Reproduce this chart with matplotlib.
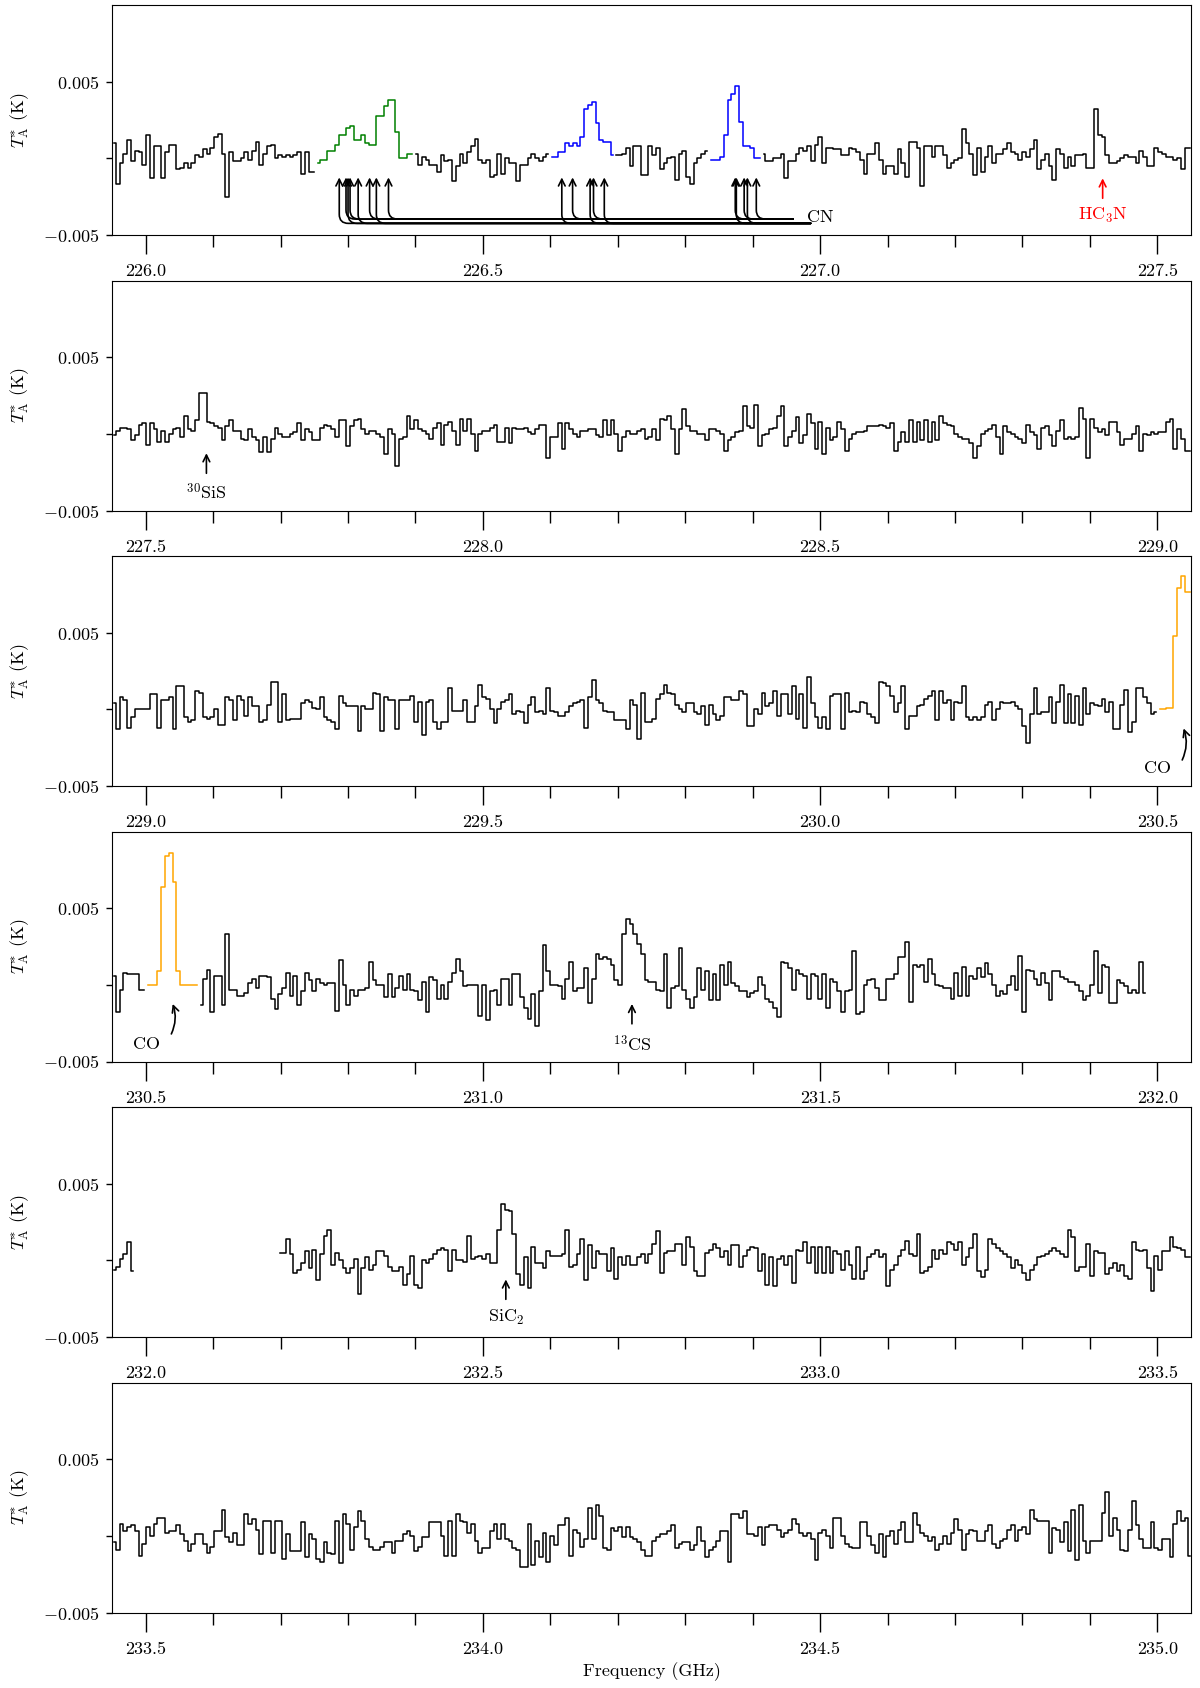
import numpy as np
import matplotlib
matplotlib.use("Agg")
import matplotlib.pyplot as plt
from matplotlib.ticker import MultipleLocator, FormatStrFormatter

plt.rcParams['font.family'] = 'serif'
plt.rcParams['font.serif'] = ['cmr10']
plt.rcParams['mathtext.fontset'] = 'cm'
plt.rcParams['axes.unicode_minus'] = False

# ---------------- data (values in units of 0.1 mK) ----------------
panel_starts = [226.0, 227.5, 229.0, 230.5, 232.0, 233.5]   # GHz, first major tick of each panel
chan_width = 0.0056                                          # GHz
first_chan_offset = -0.047                                   # first channel relative to panel start

# Panel 1: 226.0 - 227.5 GHz
p1_black_a = [10,-17,-3,3,12,-2,5,4,-4,15,-13,8,8,-13,4,9,9,-7,-6,-3,-6,-3,2,1,6,3,7,14,16,3,
              -25,4,-2,-2,0,4,-1,5,11,-4,3,8,9,0,2,1,2,1,2,4,-10,4,-9,-9]
p1_green = [-3,-1,-1,5,5,9,15,15,20,21,12,12,15,10,9,9,28,28,34,38,38,17,0,0,3,3]
p1_black_b = [3,-4,1,-1,-4,-4,-9,2,-2,-1,-15,-5,3,-3,4,8,13,-1,-3,-1,-12,-11,3,-10,0,-3,-3,-15,-4,-4,
              0,3,0,-2,1,3]
p1_blue_a = [1,1,4,4,10,8,10,8,14,32,35,37,23,12,11,11,2]
p1_black_c = [2,2,3,7,-5,8,8,-11,-11,8,2,7,-7,-3,0,1,-14,3,5,-12,-17,-3,0,3,5]
p1_blue_b = [-1,-1,-1,1,15,38,42,47,24,8,8,7,0,0]
p1_black_d = [3,-2,-2,0,0,3,-13,-2,-2,3, 7,5,8,-2,9,14,-3,7,7,6, 6,2,2,7,6,4,-1,-10,3,3,
              10,-1,-10,-5,-5,-10,6,-3,-12,11, 11,7,-18,8,8,1,8,8,2,-6, -3,-1,0,19,10,3,-11,7,-9,1,
              8,-3,3,3,6,10,4,3,-1,4, 1,6,12,-7,-1,3,-5,-14,6,3, -6,1,-5,2,2,3,-6,-6,32,15,
              14,2,-3,-3,-2,0,2,1,1,-3, 5,1,-5,-5,7,4,3,1,1,-1, 0,-7,7,7]

# Panel 2: 227.5 - 229.0 GHz
p2_black = [-1,2,4,4,3,-4,-1,6,7,-7, 7,3,-5,2,-5,0,3,4,-2,12, 3,2,9,27,27,8,7,5,4,-4,
            5,9,2,2,-3,-4,3,-2,-4,-12, -2,-12,-3,4,0,-2,-2,0,1,7, -4,3,1,-4,-4,4,6,5,3,-2,
            9,9,-8,5,9,10,3,0,2,2, 0,-2,-13,3,0,-21,-3,-2,12,3, 9,3,2,0,-3,4,7,-7,6,8,
            2,-7,10,2,10,0,-11,0,2,2, 4,6,-5,-5,4,-6,4,3,3,4, 1,0,3,6,6,-16,-2,-2,7,-10,
            7,3,0,-2,2,2,3,3,-1,-2, 9,-1,9,0,-11,-2,2,0,0,2, 3,-3,-2,3,-4,10,9,12,3,-13,
            3,16,5,2,2,0,0,-4,3,3, 2,0,-11,-4,-2,1,2,18,5,4, 19,-8,-1,0,3,4,12,18,-8,-2,
            2,11,-6,-1,13,7,-10,8,-13,4, -4,-2,8,3,-11,-3,0,1,1,2, 5,5,5,6,5,4,7,-11,-5,1,
            -5,9,-5,8,-4,9,-5,8,-4,12, 7,6,5,0,-2,-3,-3,-6,-16,-8, 0,2,3,6,-2,-13,5,1,0,-2,
            -3,-6,6,1,-1,-10,4,5,-1,-8, 2,9,-3,-2,-3,-2,17,10,-16,10, 4,1,3,-1,8,8,1,-7,-3,-3,
            0,5,-11,0,-1,1,0,1,1,8, 10,-10,3,-3,-11,-11]

# Panel 3: 229.0 - 230.5 GHz
p3_black = [4,-13,8,6,-12,-5,0,0,0,0, 10,10,-12,6,6,8,-13,15,15,-5, -8,-7,12,11,-5,-6,-5,0,-10,-10,
            8,6,-7,9,6,-4,8,2,2,-8, -7,3,18,18,-8,10,-7,-6,-6,-6, 4,6,5,1,0,8,-5,-7,-8,-13,
            9,4,2,2,2,-14,2,0,0,11, 10,-14,8,6,6,-13,6,6,6,9, -8,5,-17,5,6,-8,-13,-8,-8,14,
            -1,-1,-1,6,-8,-8,2,16,8,7, 0,-9,0,5,6,10,-3,-1,-2,-9, 3,8,-2,-1,-3,14,-1,-2,-4,-4,
            -2,2,4,5,6,-12,8,19,6,4, -1,-2,-2,-7,-7,-7,-13,6,3,-19, 11,-8,-8,-6,7,10,16,11,10,3,
            0,-2,4,4,-2,-3,2,-10,3,-3, -7,-4,8,8,6,6,12,10,-11,-11, 0,-3,11,2,4,12,-4,10,10,-3,
            15,-6,10,-12,21,4,-5,-12,-5,-13, 9,10,10,-13,11,-2,-1,-2,5,4, -3,-5,-9,18,17,15,9,-2,4,15,
            -13,-4,-4,2,3,7,9,12,-7,12, 4,6,-7,5,4,15,-5,-7,-5,-7, -5,3,5,-7,0,5,4,4,5,2,
            0,-11,-22,-3,14,-3,-2,-2,8,-9, 5,16,-9,10,-9,9,-10,14,-3,4, 3,2,7,-2,5,-13,-13,3,13,-15,
            -8,14,14,8,4,-3,-2]
p3_orange = [0,0,1,1,48,79,87,77,77]

# Panel 4: 230.5 - 232.0 GHz
p4_black_a = [6,-18,-3,8,7,7,7,-3,-3]
p4_orange = [0,0,0,9,64,84,86,67,9,0,0,0,0,0]
p4_black_b = [-13,4,10,-18,6,6,-13,
              33,-3,-3,-7,-7,-5,1,4,-2,6, 6,5,-9,-16,-6,-2,8,-7,6,-13, -4,8,3,-4,4,1,0,1,1,-17,
              16,0,-13,-3,-7,-3,-3,-2,15,3, 0,0,-8,7,-8,-2,6,-3,7,-3, -4,-10,2,-18,5,3,-9,0,-9,2,
              8,17,9,-1,0,0,0,-20,0,-23, -4,-3,-13,4,4,-13,7,7,-8,-15, -22,-6,-27,-4,26,9,0,0,-1,-9,
              4,15,-4,-2,-2,11,-12,4,20,17, 18,17,13,3,0,33,43,40,33,27, 20,3,2,2,-3,-4,20,-15,-2,-1,
              24,-3,-9,-15,-8,11,-3,9,-10,7, -10,13,0,15,1,-1,-4,-4,-8,-5, -4,5,0,-9,-11,-15,-21,15,14,11,
              -3,10,7,6,-9,7,6,-9,7,-15, 4,2,-4,-18,-4,-3,22,-19,-18,0, 3,4,-2,-10,-10,4,4,7,18,18,
              28,-11,13,12,13,2,17,7,0,-1, -2,-2,-9,8,-7,12,-7,6,4,11, 5,14,7,0,-7,-4,-6,0,6,-3,
              19,-18,10,9,4,0,8,1,-10,9, 9,5,4,2,2,0,-4,-10,-7,0, 22,-5,13,12,-12,-12,3,1,-1,-5,
              -3,-5,15,-5]

# Panel 5: 232.0 - 233.5 GHz
p5_black_a = [-6,-4,1,4,12,-7]
p5_black_b = [5,5,14,4,-8,-6,
              -2,6,-5,7,-13,4,16,20,-3,5, 0,-5,-8,-5,1,-22,-5,2,-6,-3, 6,6,3,-4,-7,-7,-4,-16,-9,3,
              -16,-18,0,-2,1,4,7,8,7,-7, 7,0,0,-1,16,1,2,3,1,4, -2,-2,20,37,33,32,17,-9,-16,2,
              -18,9,-2,-2,-5,6,3,3,3,4, 20,-4,-3,4,14,-13,10,-5,6,4, 4,-7,8,-12,2,-3,3,-3,-3,2,
              4,-2,4,11,19,-8,5,6,6,11, 11,-3,15,9,-7,-10,-10,5,7,11, 8,2,6,-3,10,10,-4,3,7,9,
              8,-7,4,-16,2,-17,1,3,-3,3, -15,7,6,12,-2,9,-8,9,-8,9, -8,6,4,-6,6,-3,-12,9,-12,-7,
              2,4,7,2,4,-17,-6,-3,3,7, 13,4,3,17,-8,-7,-4,7,1,7, 4,12,11,7,12,-3,2,8,17,-7,
              -11,-6,14,11,8,6,4,2,-5,0, -3,-8,-13,-6,-3,2,3,4,6,8, 6,4,2,20,15,-7,-4,-4,11,-10,
              6,5,5,-9,-5,-2,-7,-3,-10,-12, 12,7,6,7,-5,-20,3,-6,6,6, 15,9,8,7,2,2]
p5_start_b = 44   # first channel of the second chunk

# Panel 6: 233.5 - 235.0 GHz
p6_black = [-4,-9,8,3,6,7,3,-13,-5,6, 0,8,12,12,2,3,3,7,1,-3, -10,-5,1,1,-5,-11,-7,3,3,17,
            -1,-4,2,-6,-6,14,8,11,4,-12, 10,10,-11,10,10,-15,1,-10,-10,-10, 9,-14,1,-2,-15,-17,-4,-11,-12,10,
            -18,14,8,-9,6,16,10,-2,-7,-9, -9,-7,-4,-4,-11,-3,-3,1,3,0, -10,-7,-1,-1,9,9,9,0,-13,10,
            -13,14,10,9,2,8,-3,-11,-8,-8, 3,8,-2,8,-2,-3,-8,-9,-20,-20, 8,-19,-3,-14,2,-17,0,-6,7,7,
            12,-13,4,2,-7,-2,18,-2,20,13, -8,-9,5,3,6,-1,6,-1,-2,-4, -9,-13,-13,-3,-1,1,1,3,7,-8,
            -5,-4,-4,-9,-6,6,-3,-14,-9,-7, -3,3,3,-17,14,14,12,16,1,1, 0,6,-6,6,7,7,4,-1,2,4,
            11,8,2,0,2,-2,-16,2,4,0, -8,12,12,0,-5,-7,-8,-8,9,9, 0,-6,-11,1,-14,0,3,-5,4,9,
            -4,-4,15,7,2,0,-3,-1,-9,-5, 0,-5,2,11,4,-9,1,4,3,-3, -3,3,7,-5,-8,-3,-2,4,7,-3,
            4,6,1,17,11,10,10,10,-11,5, 4,-4,9,-10,17,-16,20,-3,-11,-3, -3,-3,15,29,0,12,4,-9,-10,4,
            23,7,-2,-8,-8,9,-8,-9,-2,-2, -14,8,16,10,12,-13]

# segments per panel: (first channel index, values, colour)
panels = [
    [(0, p1_black_a, 'k'), (54, p1_green, 'green'), (80, p1_black_b, 'k'), (116, p1_blue_a, 'blue'),
     (133, p1_black_c, 'k'), (158, p1_blue_b, 'blue'), (172, p1_black_d, 'k')],
    [(0, p2_black, 'k')],
    [(0, p3_black, 'k'), (277, p3_orange, 'orange')],
    [(0, p4_black_a, 'k'), (9, p4_orange, 'orange'), (23, p4_black_b, 'k')],
    [(0, p5_black_a, 'k'), (p5_start_b, p5_black_b, 'k')],
    [(0, p6_black, 'k')],
]

# line identifications
cn_freqs = [226.287, 226.297, 226.300, 226.303, 226.315, 226.332, 226.342, 226.360,
            226.617, 226.633, 226.659, 226.664, 226.680,
            226.8742, 226.8758, 226.8874, 226.8922, 226.9054]
hc3n_freq = 227.419
sis30_freq = 227.590
co_freq = 230.539
cs13_freq = 231.221
sic2_freq = 232.534

# ---------------- figure ----------------
W_PX, H_PX = 1200, 1688
fig = plt.figure(figsize=(W_PX / 100, H_PX / 100), dpi=100)
left_px, right_px = 112, 1191
ax_h_px = 229.7
tops_px = [5.3 + 275.5 * k for k in range(6)]
FS = 13

axes = []
for k, s in enumerate(panel_starts):
    b = 1 - (tops_px[k] + ax_h_px) / H_PX
    ax = fig.add_axes([left_px / W_PX, b, (right_px - left_px) / W_PX, ax_h_px / H_PX])
    axes.append(ax)
    f0 = s + first_chan_offset
    for i0, vals, col in panels[k]:
        v = np.asarray(vals, dtype=float) * 1e-4
        f = f0 + chan_width * (i0 + np.arange(len(v)))
        ax.plot(f, v, drawstyle='steps-mid', color=col, lw=1.1)
    ax.set_xlim(s - 0.05, s + 1.55)
    ax.set_ylim(-0.005, 0.010)
    ax.xaxis.set_major_locator(MultipleLocator(0.5))
    ax.xaxis.set_minor_locator(MultipleLocator(0.1))
    ax.xaxis.set_major_formatter(FormatStrFormatter('%.1f'))
    ax.set_yticks([-0.005, 0.0, 0.005])
    ax.set_yticklabels([r'$-0.005$', '', r'$0.005$'])
    ax.tick_params(axis='x', which='major', direction='out', length=14, width=1, pad=7, labelsize=FS)
    ax.tick_params(axis='x', which='minor', direction='out', length=8.5, width=1)
    ax.tick_params(axis='y', which='major', direction='out', length=4.5, width=1, pad=5, labelsize=FS)
    ax.set_ylabel(r'$T_{\rm A}^{*}$ (K)', fontsize=FS)
    ax.yaxis.set_label_coords(-0.075, 0.5)

axes[-1].set_xlabel('Frequency (GHz)', fontsize=FS, labelpad=4)

ARR = dict(arrowstyle='->', lw=1.2, shrinkA=0, shrinkB=0, mutation_scale=12)


def mark(ax, x, tip, tail, label, ty, color='k'):
    ax.annotate('', xy=(x, tip), xytext=(x, tail), arrowprops=dict(ARR, color=color))
    ax.text(x, ty, label, ha='center', va='center', fontsize=FS, color=color)


# CN hyperfine components
ax = axes[0]
line_end = [226.986, 226.960]
line_y = [-0.00424, -0.00396]
for j, fq in enumerate(cn_freqs):
    lev = j % 2
    ax.annotate('', xy=(fq, -0.00124), xytext=(line_end[lev], line_y[lev]),
                arrowprops=dict(ARR, color='k',
                                connectionstyle='angle,angleA=0,angleB=90,rad=9'))
ax.text(226.981, -0.00383, 'CN', ha='left', va='center', fontsize=FS)
mark(ax, hc3n_freq, -0.0013, -0.0026, r'HC$_3$N', -0.00374, color='red')

mark(axes[1], sis30_freq, -0.00126, -0.00257, r'$^{30}$SiS', -0.0038)

# CO at the right edge of panel 3
axes[2].annotate('', xy=(co_freq, -0.00124), xytext=(co_freq - 0.002, -0.0033),
                 arrowprops=dict(ARR, color='k', connectionstyle='arc3,rad=0.2'))
axes[2].text(230.500, -0.00385, 'CO', ha='center', va='center', fontsize=FS)

# CO at the left edge of panel 4
axes[3].annotate('', xy=(co_freq + 0.001, -0.00124), xytext=(co_freq - 0.001, -0.0032),
                 arrowprops=dict(ARR, color='k', connectionstyle='arc3,rad=0.2'))
axes[3].text(230.501, -0.00385, 'CO', ha='center', va='center', fontsize=FS)
mark(axes[3], cs13_freq, -0.00124, -0.00254, r'$^{13}$CS', -0.00385)

mark(axes[4], sic2_freq, -0.00124, -0.00254, r'SiC$_2$', -0.00374)

fig.savefig('out.png', dpi=100)
